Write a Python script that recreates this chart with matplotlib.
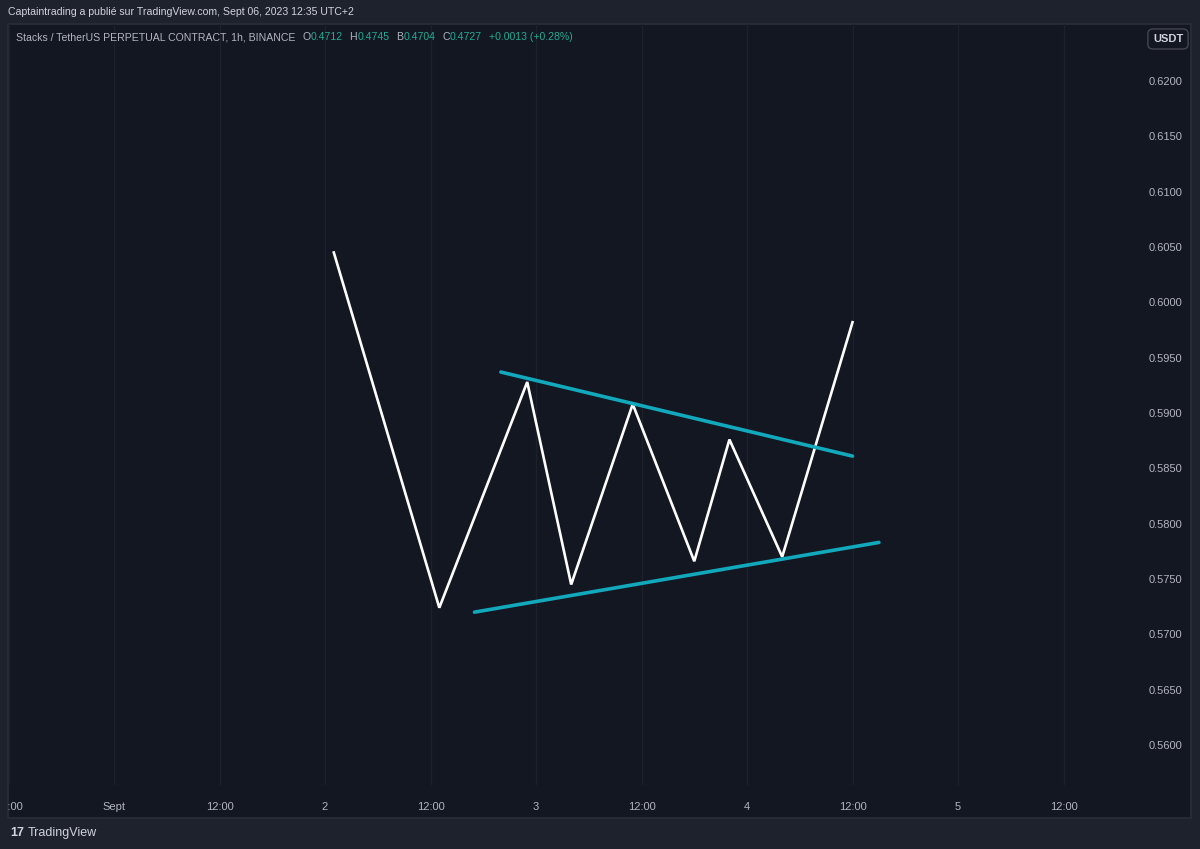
import matplotlib
matplotlib.use("Agg")
import matplotlib.pyplot as plt
from matplotlib.patches import Rectangle

plt.rcParams['font.family'] = ['Liberation Sans', 'DejaVu Sans']

# heures depuis le 1er sept 00:00
price_hours = [25, 37, 47, 52, 59, 66, 70, 76, 84]
price_values = [0.6045, 0.5724, 0.5928, 0.5745, 0.5908, 0.5766, 0.5876, 0.5770, 0.5982]

# lignes de tendance (triangle)
upper_hours = [44, 84]
upper_values = [0.5937, 0.5861]
lower_hours = [41, 87]
lower_values = [0.5720, 0.5783]

x_ticks = [-12, 0, 12, 24, 36, 48, 60, 72, 84, 96, 108]
x_labels = ['12:00', 'Sept', '12:00', '2', '12:00', '3', '12:00', '4', '12:00', '5', '12:00']
y_ticks = [0.5600, 0.5650, 0.5700, 0.5750, 0.5800, 0.5850, 0.5900, 0.5950,
           0.6000, 0.6050, 0.6100, 0.6150, 0.6200]

header = "Captaintrading a publié sur TradingView.com, Sept 06, 2023 12:35 UTC+2"
symbol = "Stacks / TetherUS PERPETUAL CONTRACT, 1h, BINANCE"
ohlc = [("O", "0.4712"), ("H", "0.4745"), ("B", "0.4704"), ("C", "0.4727")]
change = "+0.0013 (+0.28%)"

BG = '#1e222d'
PANEL = '#131722'
TXT = '#b2b5be'
GREEN = '#22ab94'
CYAN = '#12a9bd'
FS = 8
FS_HEAD = 7.6

W, H = 1200, 849
fig = plt.figure(figsize=(W / 100, H / 100), dpi=100, facecolor=BG)

# panneau du graphique
panel = Rectangle((8 / W, 1 - 818 / H), 1183 / W, 794 / H, transform=fig.transFigure,
                  facecolor=PANEL, edgecolor='#2a2e39', linewidth=1.2, zorder=-5)
fig.patches.append(panel)

ax = fig.add_axes([8 / W, 1 - 785 / H, 1183 / W, 761 / H])
ax.set_facecolor('none')
ax.set_xlim(-12.06, 122.5)
ax.set_ylim(0.55638, 0.62515)
for s in ax.spines.values():
    s.set_visible(False)

ax.set_xticks(x_ticks)
ax.set_xticklabels(x_labels)
ax.tick_params(axis='x', length=0, pad=12, labelsize=FS, labelcolor=TXT)
ax.grid(axis='x', color='#1d212c', linewidth=1)

ax.yaxis.tick_right()
ax.set_yticks(y_ticks)
ax.set_yticklabels(['%.4f' % v for v in y_ticks])
ax.tick_params(axis='y', length=0, pad=-6, labelsize=FS, labelcolor=TXT)
for lbl in ax.get_yticklabels():
    lbl.set_horizontalalignment('right')

# étiquette tronquée à gauche
for lbl in ax.get_xticklabels():
    lbl.set_clip_path(panel)

ax.plot(price_hours, price_values, color='white', linewidth=1.9, solid_joinstyle='miter', zorder=3)
ax.plot(upper_hours, upper_values, color=CYAN, linewidth=2.6, solid_capstyle='round', zorder=4)
ax.plot(lower_hours, lower_values, color=CYAN, linewidth=2.6, solid_capstyle='round', zorder=4)

# en-tête
fig.text(8 / W, 1 - 12 / H, header, color='#d1d4dc', fontsize=FS_HEAD, va='center', ha='left')

t = fig.text(16 / W, 1 - 37 / H, symbol, color=TXT, fontsize=FS_HEAD, va='center', ha='left')
prev = t
for k, v in ohlc:
    a = ax.annotate(k, xy=(1, 0), xycoords=prev, xytext=(5, 0), textcoords='offset points',
                    color=TXT, fontsize=FS_HEAD, va='bottom', ha='left', annotation_clip=False)
    b = ax.annotate(v, xy=(1, 0), xycoords=a, xytext=(0, 0), textcoords='offset points',
                    color=GREEN, fontsize=FS_HEAD, va='bottom', ha='left', annotation_clip=False)
    prev = b
ax.annotate(change, xy=(1, 0), xycoords=prev, xytext=(5, 0), textcoords='offset points',
            color=GREEN, fontsize=FS_HEAD, va='bottom', ha='left', annotation_clip=False)

fig.text(1168 / W, 1 - 39 / H, 'USDT', color='#d1d4dc', fontsize=FS, fontweight='bold',
         va='center', ha='center',
         bbox=dict(boxstyle='round,pad=0.45', facecolor='#131722', edgecolor='#434651', linewidth=1))

# pied de page
fig.text(10 / W, 1 - 833 / H, '17', color='#d1d4dc', fontsize=9, fontweight='bold',
         va='center', ha='left')
fig.text(28 / W, 1 - 833 / H, 'TradingView', color='#d1d4dc', fontsize=9,
         va='center', ha='left')

fig.savefig('out.png', dpi=100, facecolor=BG)
